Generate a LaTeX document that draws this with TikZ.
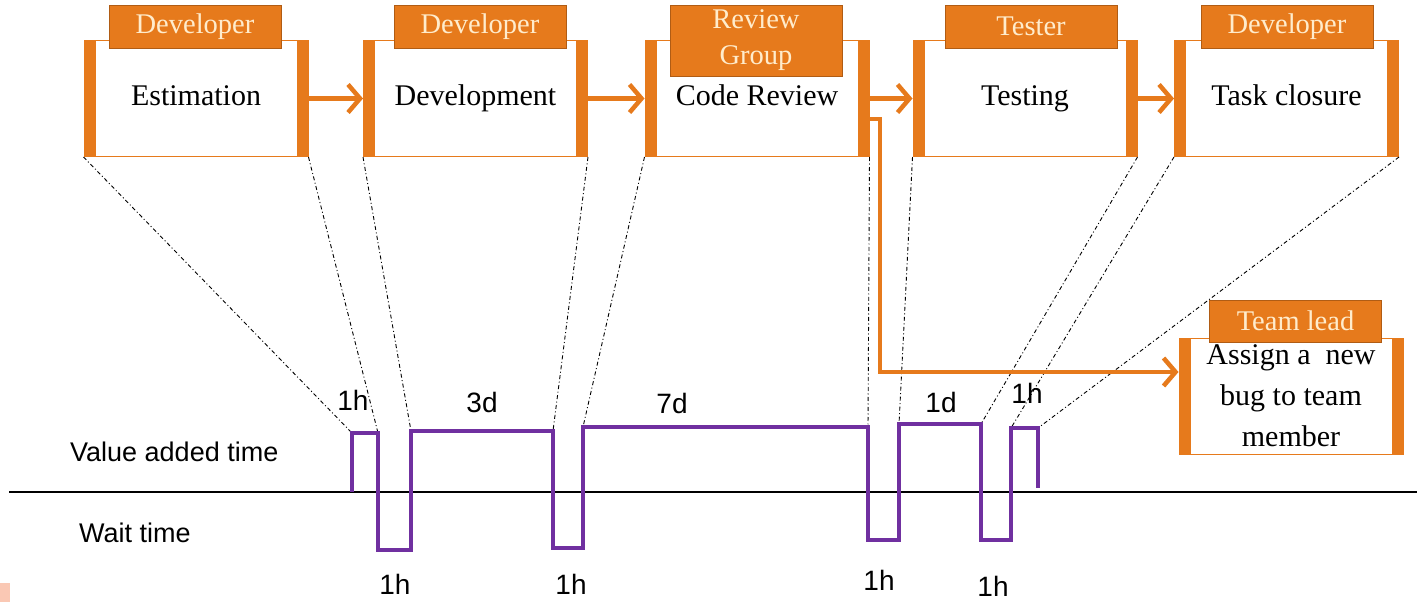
\documentclass[tikz,border=0pt]{standalone}
\usepackage{fontspec}
\setmainfont{Liberation Serif}
\setsansfont{Liberation Sans}
\usetikzlibrary{arrows.meta,positioning}
\definecolor{StageOrange}{RGB}{230,122,28}
\definecolor{RoleEdge}{RGB}{176,92,20}
\definecolor{RoleCream}{RGB}{255,236,204}
\definecolor{WavePurple}{RGB}{112,48,160}
\definecolor{Salmon}{RGB}{250,200,180}

\tikzset{
  stage/.style={draw=StageOrange, line width=1pt, fill=white, minimum width=224pt, minimum height=116pt,
    inner sep=0pt, align=center, font=\fontsize{30}{41}\selectfont},
  oneline/.style={text height=21pt, text depth=6pt},
  role/.style={draw=RoleEdge, line width=0.8pt, fill=StageOrange, text=RoleCream, minimum width=172pt,
    minimum height=43pt, inner sep=0pt, align=center, font=\fontsize{28.5}{36}\selectfont},
  flow/.style={draw=StageOrange, line width=4pt, -{Straight Barb[length=12pt,width=28pt,line width=4.5pt]}},
  guide/.style={draw=black, line width=0.9pt, dash pattern=on 4pt off 2.5pt on 1pt off 2.5pt},
  wave/.style={draw=WavePurple, line width=4.5pt, line join=miter},
  span/.style={font=\sffamily\fontsize{28}{30}\selectfont, inner sep=0pt},
  axislabel/.style={font=\sffamily\fontsize{27}{29}\selectfont, inner sep=0pt, anchor=west}
}

\begin{document}
\begin{tikzpicture}[x=1pt,y=1pt,yscale=-1]
  \useasboundingbox (0,0) rectangle (1417,602);

  % stages of the task
  \node[stage, oneline] (est) at (196,98.5) {Estimation};
  \node[stage, oneline] (dev) at (475.5,98.5) {Development};
  \node[stage, oneline] (rev) at (757,98.5) {Code Review};
  \node[stage, oneline] (test) at (1025,98.5) {Testing};
  \node[stage, oneline] (close) at (1286.5,98.5) {Task closure};
  \node[stage] (lead) at (1291,396) {Assign a~ new\\bug to team\\member};

  % thick side bars of every stage
  \foreach \s in {est,dev,rev,test,close,lead}{
    \fill[StageOrange] (\s.north west) rectangle ([xshift=12pt]\s.south west);
    \fill[StageOrange] (\s.north east) rectangle ([xshift=-12pt]\s.south east);
  }

  % who does it
  \node[role] (estrole) at (195,26.5) {Developer};
  \node[role] (devrole) at (480,26.5) {Developer};
  \node[role, minimum height=71pt] (revrole) at (756,40.5) {Review\\Group};
  \node[role] (testrole) at (1031,26.5) {Tester};
  \node[role] (closerole) at (1287,26.5) {Developer};
  \node[role, minimum height=42pt] (leadrole) at (1295.5,321) {Team lead};

  % main flow
  \draw[flow] (est.east) -- (dev.west);
  \draw[flow] (dev.east) -- (rev.west);
  \draw[flow] (rev.east) -- (test.west);
  \draw[flow] (test.east) -- (close.west);

  % corners of the time line
  \coordinate (a1) at (352,433);
  \coordinate (a2) at (378,433);
  \coordinate (b1) at (411,431);
  \coordinate (b2) at (553,431);
  \coordinate (c1) at (583,427);
  \coordinate (c2) at (868,427);
  \coordinate (d1) at (899,424);
  \coordinate (d2) at (981,424);
  \coordinate (e1) at (1011,428);
  \coordinate (e2) at (1038,428);

  % guides from the stages down to the time line
  \draw[guide] (est.south west) -- (a1);
  \draw[guide] (est.south east) -- (a2);
  \draw[guide] (dev.south west) -- (b1);
  \draw[guide] (dev.south east) -- (b2);
  \draw[guide] (rev.south west) -- (c1);
  \draw[guide] (rev.south east) -- (c2);
  \draw[guide] (test.south west) -- (d1);
  \draw[guide] (test.south east) -- (d2);
  \draw[guide] (close.south west) -- (e1);
  \draw[guide] (close.south east) -- (e2);

  % branch to the team lead
  \coordinate (turn) at (880,119);
  \coordinate (corner) at (880,372);
  \draw[flow] (rev.east |- turn) -- (turn) -- (corner) -- (lead.west |- corner);

  % axis and its labels
  \coordinate (axisleft) at (9,491.5);
  \coordinate (axisright) at (1417,491.5);
  \draw[line width=2pt] (axisleft) -- (axisright);
  \node[axislabel] (valuelabel) at (70,452) {Value added time};
  \node[axislabel] (waitlabel) at (79,533) {Wait time};

  % value added and wait time
  \draw[wave] (a1 |- axisleft) -- (a1) -- (a2) -- (378,550) -- (411,550) -- (b1) -- (b2)
    -- (553,548) -- (583,548) -- (c1) -- (c2) -- (868,540) -- (899,540) -- (d1) -- (d2)
    -- (981,540) -- (1011,540) -- (e1) -- (e2) -- (1038,488);

  % durations
  \node[span] (t1) at (353,400) {1h};
  \node[span] (t2) at (482,402) {3d};
  \node[span] (t3) at (672,403) {7d};
  \node[span] (t4) at (941,402) {1d};
  \node[span] (t5) at (1027,393) {1h};
  \node[span] (w1) at (395,584) {1h};
  \node[span] (w2) at (571,584) {1h};
  \node[span] (w3) at (879,580) {1h};
  \node[span] (w4) at (993,586) {1h};

  % corner mark
  \fill[Salmon] (0,583) rectangle (10,602);
\end{tikzpicture}
\end{document}
